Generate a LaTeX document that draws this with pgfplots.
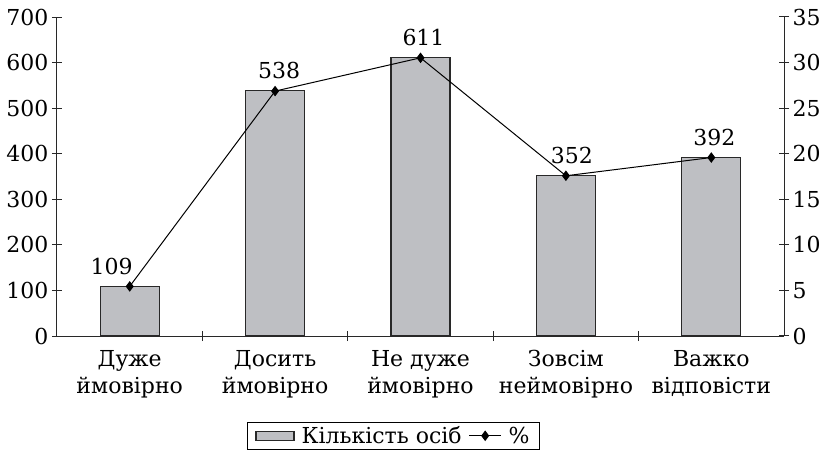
\documentclass[border=0pt]{standalone}
\usepackage{fontspec}
\setmainfont{DejaVu Serif}
\usepackage{pgfplots}
\usepackage{pgfplotstable}
\pgfplotsset{compat=1.18}
\definecolor{bargray}{RGB}{190,191,195}
\definecolor{edge}{RGB}{40,40,40}
\newcommand{\lf}{\fontsize{22}{27}\selectfont}

\pgfplotsset{
  barleg/.style={legend image code/.code={\draw[##1] (0pt,-4.5pt) rectangle (38pt,4.5pt);}},
  lineleg/.style={legend image code/.code={\draw[##1, mark repeat=2, mark phase=2] plot coordinates {(0pt,0pt) (16pt,0pt) (32pt,0pt)};}},
}

\pgfplotstableread{
x n p dx
0 109 5.44 -18
1 538 26.87 4
2 611 30.52 3
3 352 17.58 6
4 392 19.58 3
}\data

\begin{document}
\begin{tikzpicture}[font=\lf]
\begin{axis}[
  at={(0pt,0pt)}, anchor=south west,
  scale only axis, width=727pt, height=319pt,
  xmin=-0.5, xmax=4.5, ymin=0, ymax=700,
  axis y line*=left, axis x line*=bottom,
  axis line style={draw=edge, line width=1pt, -},
  ytick={0,100,...,700},
  xtick={0.5,1.5,2.5,3.5}, xticklabels={},
  extra x ticks={0,1,2,3,4},
  extra x tick labels={{Дуже\\ймовірно},{Досить\\ймовірно},{Не дуже\\ймовірно},{Зовсім\\неймовірно},{Важко\\відповісти}},
  extra x tick style={major tick length=0pt, tick label style={align=center, yshift=-11pt}},
  tick align=center, major tick length=10pt,
  tick style={draw=edge, line width=1pt},
  tick label style={font=\lf, text=black},
  /pgf/number format/assume math mode=true,
  legend columns=2,
  legend style={at={(0.5,0)}, anchor=north, xshift=-27pt, yshift=-86pt,
    draw=black, line width=1pt, font=\lf, inner xsep=8pt,
    /tikz/every odd column/.append style={column sep=5pt},
    /tikz/every even column/.append style={column sep=5pt}},
]
\addplot[ybar, bar width=59pt, fill=bargray, draw=edge, line width=1.2pt,
  visualization depends on={\thisrow{dx} \as \dx},
  nodes near coords,
  every node near coord/.append style={anchor=base, yshift=12pt, xshift=\dx pt, inner sep=0pt, text=black, font=\lf},
  barleg
] table[x=x, y=n] {\data};
\addlegendentry{Кількість осіб}
\addlegendimage{black, line width=1pt, mark=diamond*, mark size=4.5pt, lineleg}
\addlegendentry{\%}
\end{axis}
\begin{axis}[
  at={(0pt,0pt)}, anchor=south west,
  scale only axis, width=727pt, height=319pt,
  xmin=-0.5, xmax=4.5, ymin=0, ymax=35,
  axis y line*=right, axis x line=none,
  axis line style={draw=edge, line width=1pt, -},
  ytick={0,5,...,35},
  tick align=center, major tick length=10pt,
  tick style={draw=edge, line width=1pt},
  tick label style={font=\lf, text=black},
  /pgf/number format/assume math mode=true,
]
\addplot[black, line width=1pt, mark=diamond*, mark size=4.5pt] table[x=x, y=p] {\data};
\end{axis}
\pgfresetboundingbox
\useasboundingbox (-57pt,-119pt) rectangle (765pt,336pt);
\end{tikzpicture}
\end{document}
